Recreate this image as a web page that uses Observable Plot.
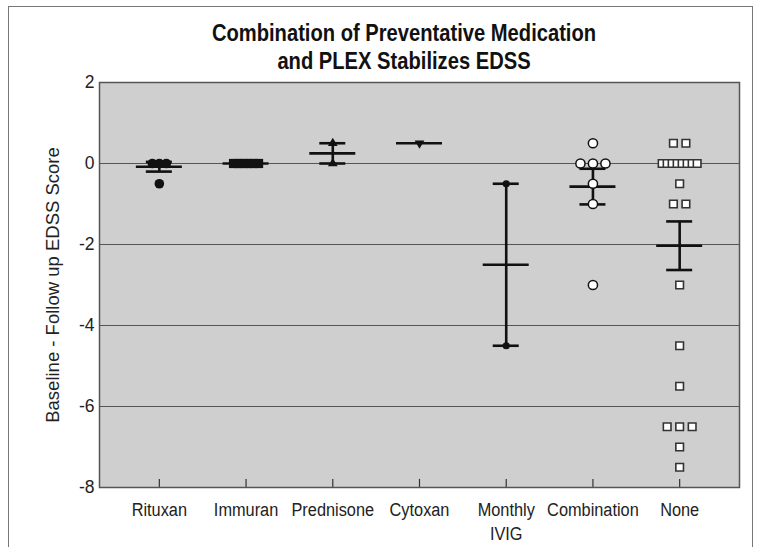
<!DOCTYPE html>
<html>
<head>
<meta charset="utf-8">
<script src="https://cdn.jsdelivr.net/npm/d3@7"></script>
<script src="https://cdn.jsdelivr.net/npm/@observablehq/plot@0.6"></script>
<style>
  body { margin: 0; background: #fff; }
  #wrap { position: relative; width: 758px; height: 547px; overflow: hidden; }
  #border { position: absolute; left: 8px; top: 6px; width: 745px; height: 560px; border: 1.5px solid #777; box-sizing: border-box; }
  #title { position: absolute; left: 404px; top: 19px; transform: translateX(-50%) scaleX(0.84); white-space: nowrap; text-align: center;
           font-family: "Liberation Sans", Arial, sans-serif; font-weight: bold;
           font-size: 24px; line-height: 28px; color: #111; }
  #chart { position: absolute; left: 0; top: 0; }
</style>
</head>
<body>
<div id="wrap">
  <div id="border"></div>
  <div id="chart"></div>
  <div id="title">Combination of Preventative Medication<br>and PLEX Stabilizes EDSS</div>
</div>
<script>
// ---- data ----
const categories = ["Rituxan", "Immuran", "Prednisone", "Cytoxan", "Monthly\nIVIG", "Combination", "None"];
const rituxan = [0, 0, 0, -0.5];
const immuran = [0, 0, 0, 0, 0, 0];
const prednisone = [0.5, 0];
const cytoxan = [0.5];
const monthlyIVIG = [-0.5, -4.5];
const combination = [0.5, 0, 0, 0, -0.5, -1, -3];
const none = [0.5, 0.5, 0, 0, 0, 0, 0, 0, 0, 0, -0.5, -1, -1, -3, -4.5, -5.5, -6.5, -6.5, -6.5, -7, -7.5];
const means = [-0.08, 0, 0.25, 0.5, -2.5, -0.57, -2.03];
const sems = [0.12, 0, 0.25, 0, 2.0, 0.44, 0.6];
const yTicks = [2, 0, -2, -4, -6, -8];
const yLabel = "Baseline - Follow up EDSS Score";

// ---- layout ----
const W = 758, H = 547;
const mL = 99, mR = 19, mT = 82, mB = 60;
const pad = 0.69;
const xDomain = [-pad, categories.length - 1 + pad];
const unitPx = (W - mL - mR) / (xDomain[1] - xDomain[0]);
const px = (p) => p / unitPx;

const groups = [rituxan, immuran, prednisone, cytoxan, monthlyIVIG, combination, none];

// dodge tied values horizontally
const points = [];
groups.forEach((vals, i) => {
  const counts = d3.rollup(vals, v => v.length, v => v);
  const seen = new Map();
  vals.forEach(v => {
    const n = counts.get(v);
    const k = seen.get(v) || 0;
    seen.set(v, k + 1);
    const step = n > 3 ? 5 : (i === 0 ? 7 : 12.5);
    points.push({cat: i, value: v, x: i + px((k - (n - 1) / 2) * step)});
  });
});

const summary = means.map((m, i) => ({cat: i, mean: m, lo: m - sems[i], hi: m + sems[i], sem: sems[i]}));
const withErr = summary.filter(d => d.sem > 0);

const styles = [
  {symbol: "circle", fill: "#111", r: 4.8},
  {symbol: "square", fill: "#111", r: 5.2},
  {symbol: "triangle", fill: "#111", r: 3.6},
  {symbol: "triangle", fill: "#111", r: 3.6, rotate: 180},
  {symbol: "circle", fill: "#111", r: 3.6},
  {symbol: "circle", fill: "#fff", stroke: "#111", strokeWidth: 1.5, r: 4.6},
  {symbol: "square", fill: "#fff", stroke: "#333", strokeWidth: 1.6, r: 4.3}
];

const dotMarks = styles.map((s, i) =>
  Plot.dot(points.filter(d => d.cat === i), {x: "x", y: "value", ...s})
);

const chart = Plot.plot({
  width: W, height: H,
  marginLeft: mL, marginRight: mR, marginTop: mT, marginBottom: mB,
  style: {fontFamily: "'Liberation Sans', Arial, sans-serif", fontSize: "17px", color: "#222", background: "transparent"},
  x: {domain: xDomain},
  y: {domain: [-8, 2]},
  marks: [
    Plot.frame({fill: "#cfcfcf", stroke: null}),
    Plot.ruleY([0, -2, -4, -6], {stroke: "#555", strokeWidth: 1.2}),
    Plot.ruleX(withErr, {x: "cat", y1: "lo", y2: "hi", stroke: "#111", strokeWidth: 2.6}),
    Plot.ruleY(withErr, {y: "hi", x1: d => d.cat - px(13), x2: d => d.cat + px(13), stroke: "#111", strokeWidth: 2.6}),
    Plot.ruleY(withErr, {y: "lo", x1: d => d.cat - px(13), x2: d => d.cat + px(13), stroke: "#111", strokeWidth: 2.6}),
    Plot.ruleY(summary, {y: "mean", x1: d => d.cat - px(23), x2: d => d.cat + px(23), stroke: "#111", strokeWidth: 2.6}),
    ...dotMarks,
    Plot.ruleX(d3.range(categories.length), {x: d => d, y1: -8, y2: -7.8, stroke: "#333", strokeWidth: 1.2}),
    Plot.frame({stroke: "#555", strokeWidth: 1.5}),
    Plot.axisY({ticks: yTicks, tickFormat: d => String(d), tickSize: 0, tickPadding: 5, fontSize: 17.5, label: yLabel, labelAnchor: "center", labelArrow: "none", labelOffset: 54}),
    Plot.axisX({ticks: d3.range(categories.length), tickFormat: i => categories[i], tickSize: 0, tickPadding: 12,
                fontSize: 19, fontFamily: "'Liberation Sans', Arial, sans-serif", lineHeight: 1.25, label: null})
  ]
});
// condense x tick labels (reference uses a condensed face)
chart.querySelectorAll('g[aria-label="x-axis tick label"] text').forEach(t => {
  const tr = t.getAttribute("transform") || "";
  t.setAttribute("transform", tr + " scale(0.86,1)");
});
// y-axis label size
chart.querySelectorAll('g[aria-label="y-axis label"] text').forEach(t => t.setAttribute("font-size", "18.5"));
document.getElementById("chart").append(chart);
</script>
</body>
</html>
